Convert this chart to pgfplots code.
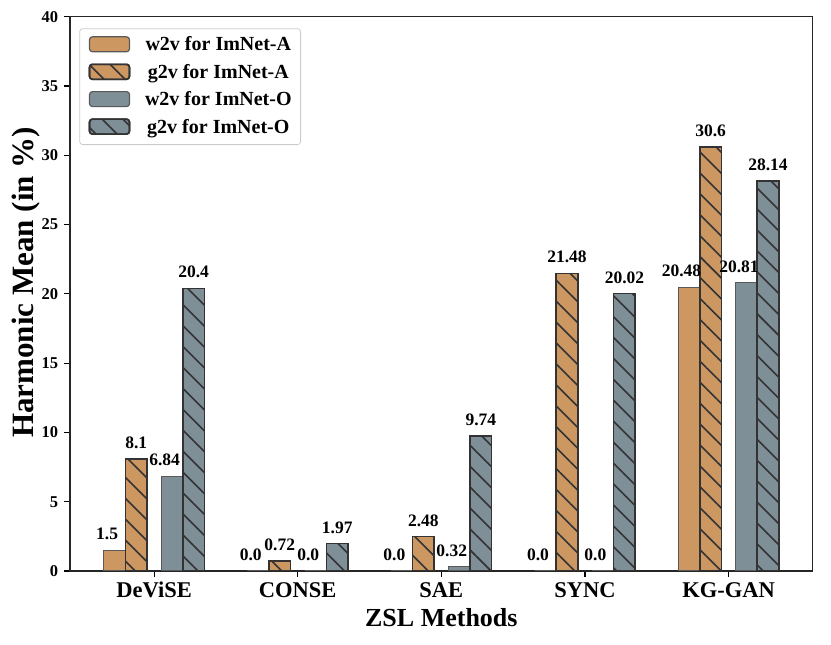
\documentclass[border=0pt]{standalone}
\usepackage{pgfplots}
\pgfplotsset{compat=1.18}
\usepackage{fontspec}
\setmainfont{Liberation Serif}
\usetikzlibrary{patterns.meta}
\definecolor{barA}{HTML}{CD9762}
\definecolor{barO}{HTML}{7F8F98}
\pgfplotsset{
  mybar/.style={ybar, bar width=0.15, point meta=explicit symbolic, nodes near coords,
    legend image code/.code={\draw[##1] (0pt,-1pt) rectangle (40pt,14pt);}},
  plainbar/.style={mybar, draw=black!65, line width=1.2pt},
  hatchbar/.style={mybar, draw=black!80, line width=1.6pt,
    postaction={pattern={Lines[angle=-45,distance=14.8pt,line width=1.6pt]}, pattern color=black!80}},
}
\begin{document}
\begin{tikzpicture}
\useasboundingbox (-70pt,-74pt) rectangle (761pt,571pt);
\begin{axis}[
  scale only axis,
  width=742.7pt, height=554.3pt,
  xmin=-0.586, xmax=4.586,
  ymin=0, ymax=40,
  xtick={0,1,2,3,4},
  xticklabels={DeViSE,CONSE,SAE,SYNC,KG-GAN},
  ytick={0,5,...,40},
  tick pos=left,
  tick align=outside,
  major tick length=6pt,
  tick style={line width=1.2pt, black},
  axis line style={line width=1.3pt, black!85},
  /pgf/number format/assume math mode=true,
  xticklabel style={font=\bfseries\fontsize{22.5}{22.5}\selectfont, anchor=base, inner sep=0pt, yshift=-21pt},
  yticklabel style={font=\bfseries\fontsize{16.5}{16.5}\selectfont, anchor=east, inner sep=0pt, xshift=-5.7pt},
  xlabel={ZSL Methods},
  ylabel={Harmonic Mean (in \%)},
  every axis x label/.style={at={(axis description cs:0.5,-0.1005)}, anchor=base, font=\bfseries\fontsize{26}{26}\selectfont},
  every axis y label/.style={at={(axis description cs:-0.0494,0.5207)}, anchor=base, rotate=90, font=\bfseries\fontsize{31}{31}\selectfont},
  every node near coord/.append style={anchor=south, inner sep=0pt, yshift=9.5pt, font=\bfseries\fontsize{17.5}{17.5}\selectfont, text=black},
  legend style={at={(rel axis cs:0.01252,0.97907)}, anchor=north west,
    draw=black!20, line width=0.8pt, rounded corners=3pt, fill=white,
    inner xsep=9pt, inner ysep=7.5pt, row sep=8.7pt, column sep=14.7pt,
    font=\bfseries\fontsize{20}{24}\selectfont,
    nodes={inner sep=0pt, text height=14pt, text depth=4pt, anchor=base}},
  legend cell align=left,
]
\addplot[plainbar, fill=barA, bar shift=-0.275, every node near coord/.append style={xshift=-47pt}]
  coordinates {(0,1.5) [1.5] (1,0.0) [0.0] (2,0.0) [0.0] (3,0.0) [0.0] (4,20.48) [20.48]};
\addlegendentry{w2v for ImNet-A}
\addplot[hatchbar, fill=barA, bar shift=-0.125, every node near coord/.append style={xshift=-17.95pt}]
  coordinates {(0,8.1) [8.1] (1,0.72) [0.72] (2,2.48) [2.48] (3,21.48) [21.48] (4,30.6) [30.6]};
\addlegendentry{g2v for ImNet-A}
\addplot[plainbar, fill=barO, bar shift=0.125, every node near coord/.append style={xshift=10.45pt}]
  coordinates {(0,6.84) [6.84] (1,0.0) [0.0] (2,0.32) [0.32] (3,0.0) [0.0] (4,20.81) [20.81]};
\addlegendentry{w2v for ImNet-O}
\addplot[hatchbar, fill=barO, bar shift=0.275, every node near coord/.append style={xshift=39.5pt}]
  coordinates {(0,20.4) [20.4] (1,1.97) [1.97] (2,9.74) [9.74] (3,20.02) [20.02] (4,28.14) [28.14]};
\addlegendentry{g2v for ImNet-O}
\end{axis}
\end{tikzpicture}
\end{document}
